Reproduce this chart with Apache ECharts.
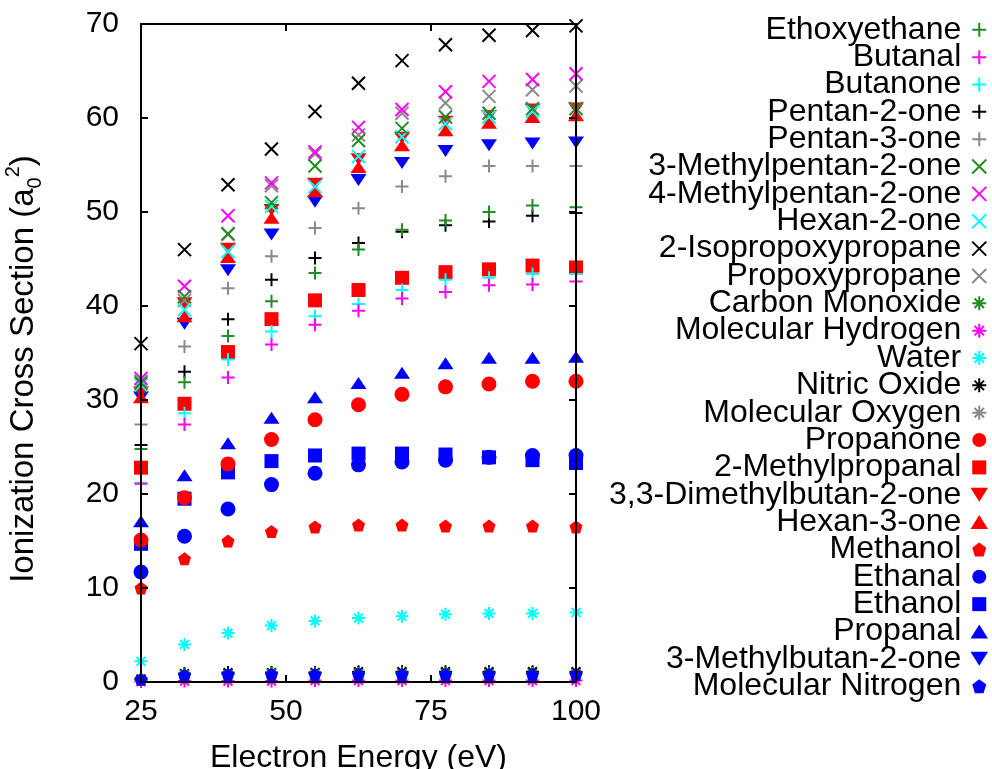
<!DOCTYPE html>
<html>
<head>
<meta charset="utf-8">
<script src="https://cdn.jsdelivr.net/npm/echarts@6/dist/echarts.min.js"></script>
<style>
html,body{margin:0;padding:0;background:#fff;}
#chart{width:992px;height:769px;}
</style>
</head>
<body>
<div id="chart"></div>
<script>
// ---------------- data ----------------
const energies = [25, 32.5, 40, 47.5, 55, 62.5, 70, 77.5, 85, 92.5, 100];
const xTicks = [25, 50, 75, 100];
const yTicks = [0, 10, 20, 30, 40, 50, 60, 70];

const ethoxyethane       = [24.8, 31.9, 36.8, 40.5, 43.5, 46.0, 48.1, 49.1, 50.0, 50.7, 50.5];
const butanal            = [21.1, 27.4, 32.4, 35.9, 38.0, 39.5, 40.8, 41.5, 42.2, 42.3, 42.6];
const butanone           = [21.2, 28.6, 34.3, 37.3, 38.9, 40.2, 41.7, 42.8, 43.0, 43.4, 43.4];
const pentan2one         = [25.2, 33.0, 38.6, 42.8, 45.1, 46.7, 47.9, 48.6, 49.0, 49.6, 49.9];
const pentan3one         = [27.4, 35.7, 41.9, 45.3, 48.3, 50.4, 52.7, 53.8, 54.9, 54.9, 54.9];
const methylpentan3_2one = [31.8, 41.0, 47.7, 51.0, 54.9, 57.6, 58.9, 60.1, 60.5, 61.0, 61.0];
const methylpentan4_2one = [32.3, 42.1, 49.6, 53.1, 56.4, 59.0, 60.9, 62.8, 63.9, 64.1, 64.7];
const hexan2one          = [31.6, 39.6, 45.8, 50.6, 52.7, 55.9, 58.0, 59.4, 60.1, 60.7, 61.0];
const isopropoxypropane  = [36.0, 46.0, 52.9, 56.7, 60.7, 63.7, 66.1, 67.8, 68.8, 69.3, 69.8];
const propoxypropane     = [32.0, 40.6, 47.6, 52.8, 56.2, 58.2, 60.5, 61.6, 62.3, 63.0, 63.4];
const carbonMonoxide     = [0.2, 0.8, 0.8, 0.9, 0.9, 0.9, 0.9, 0.9, 0.9, 0.9, 0.9];
const molecularHydrogen  = [0.05, 0.1, 0.1, 0.1, 0.15, 0.15, 0.15, 0.15, 0.15, 0.15, 0.15];
const water              = [2.2, 4.0, 5.2, 6.0, 6.5, 6.8, 7.0, 7.2, 7.3, 7.3, 7.4];
const nitricOxide        = [0.3, 0.9, 1.0, 1.0, 1.0, 1.1, 1.1, 1.1, 1.1, 1.1, 1.1];
const molecularOxygen    = [0.3, 0.8, 0.9, 0.9, 1.0, 1.0, 1.0, 1.0, 1.0, 1.0, 1.0];
const propanone          = [15.1, 19.6, 23.2, 25.8, 27.9, 29.5, 30.6, 31.4, 31.7, 32.0, 32.0];
const methylpropanal     = [22.8, 29.6, 35.1, 38.6, 40.6, 41.7, 43.0, 43.6, 43.9, 44.3, 44.1];
const dimethylbutanone   = [30.8, 40.3, 46.1, 50.2, 53.0, 55.6, 57.9, 59.6, 60.2, 60.9, 61.0];
const hexan3one          = [30.3, 38.9, 45.2, 49.4, 52.2, 54.8, 57.1, 58.7, 59.5, 60.1, 60.3];
const methanol           = [10.0, 13.1, 15.0, 16.0, 16.5, 16.7, 16.7, 16.6, 16.6, 16.6, 16.5];
const ethanal            = [11.7, 15.5, 18.4, 21.0, 22.2, 23.1, 23.4, 23.6, 23.9, 24.1, 24.1];
const ethanol            = [14.7, 19.5, 22.3, 23.5, 24.1, 24.3, 24.3, 24.2, 23.9, 23.6, 23.3];
const propanal           = [17.1, 22.0, 25.4, 28.1, 30.3, 31.8, 32.9, 33.9, 34.5, 34.5, 34.6];
const methylbutanone     = [30.3, 38.1, 43.8, 47.6, 51.1, 53.4, 55.2, 56.5, 57.1, 57.3, 57.4];
const molecularNitrogen  = [0.3, 0.7, 0.8, 0.8, 0.8, 0.8, 0.8, 0.8, 0.8, 0.8, 0.8];

const seriesNames = [
  'Ethoxyethane', 'Butanal', 'Butanone', 'Pentan-2-one', 'Pentan-3-one',
  '3-Methylpentan-2-one', '4-Methylpentan-2-one', 'Hexan-2-one', '2-Isopropoxypropane', 'Propoxypropane',
  'Carbon Monoxide', 'Molecular Hydrogen', 'Water', 'Nitric Oxide', 'Molecular Oxygen',
  'Propanone', '2-Methylpropanal', '3,3-Dimethylbutan-2-one', 'Hexan-3-one', 'Methanol',
  'Ethanal', 'Ethanol', 'Propanal', '3-Methylbutan-2-one', 'Molecular Nitrogen'
];
const seriesValues = [
  ethoxyethane, butanal, butanone, pentan2one, pentan3one,
  methylpentan3_2one, methylpentan4_2one, hexan2one, isopropoxypropane, propoxypropane,
  carbonMonoxide, molecularHydrogen, water, nitricOxide, molecularOxygen,
  propanone, methylpropanal, dimethylbutanone, hexan3one, methanol,
  ethanal, ethanol, propanal, methylbutanone, molecularNitrogen
];

// ---------------- styles ----------------
const GREEN = '#228b22', MAGENTA = '#ff00ff', CYAN = '#00ffff', BLACK = '#000000', GRAY = '#8a8a8a';
const RED = '#ff0000', BLUE = '#0000ff';
const PLUS = 'path://M0,5L10,5M5,0L5,10';
const CROSS = 'path://M0,0L10,10M10,0L0,10';
const STAR = 'path://M0,5L10,5M5,0L5,10M1.6,1.6L8.4,8.4M8.4,1.6L1.6,8.4';
const SQUARE = 'path://M0,0L10,0L10,10L0,10Z';
const TRI_DOWN = 'path://M0,0L10,0L5,8Z';
const TRI_UP = 'path://M5,0L10,8L0,8Z';
const PENTA = 'path://M5,0L10,3.8L8.1,10L1.9,10L0,3.8Z';
const palette5 = [GREEN, MAGENTA, CYAN, BLACK, GRAY];
const styles = [];
[PLUS, CROSS, STAR].forEach(function (sym) {
  palette5.forEach(function (c) {
    styles.push({ symbol: sym, color: c, stroke: true, size: 13 });
  });
});
styles.push({ symbol: 'circle', color: RED, size: 15 });
styles.push({ symbol: SQUARE, color: RED, size: 14 });
styles.push({ symbol: TRI_DOWN, color: RED, size: [16, 12] });
styles.push({ symbol: TRI_UP, color: RED, size: [16, 12] });
styles.push({ symbol: PENTA, color: RED, size: 13 });
styles.push({ symbol: 'circle', color: BLUE, size: 15 });
styles.push({ symbol: SQUARE, color: BLUE, size: 14 });
styles.push({ symbol: TRI_UP, color: BLUE, size: [16, 12] });
styles.push({ symbol: TRI_DOWN, color: BLUE, size: [16, 12] });
styles.push({ symbol: PENTA, color: BLUE, size: 13 });

const FONT = 'Liberation Sans, Arial, Helvetica, sans-serif';

const series = seriesNames.map(function (name, i) {
  const st = styles[i];
  const itemStyle = st.stroke
    ? { color: st.color, borderColor: st.color, borderWidth: 2, opacity: 1 }
    : { color: st.color, borderWidth: 0, opacity: 1 };
  return {
    name: name,
    type: 'scatter',
    data: energies.map(function (x, k) { return [x, seriesValues[i][k]]; }),
    symbol: st.symbol,
    symbolSize: st.size,
    itemStyle: itemStyle,
    emphasis: { disabled: true },
    animation: false,
    clip: false,
    z: i === seriesNames.length - 1 ? 45 : 40 - i
  };
});

const axisLineStyle = { color: '#000', width: 2 };
const tickStyle = { color: '#000', width: 2 };

const option = {
  backgroundColor: '#ffffff',
  animation: false,
  grid: { left: 141, right: 416, top: 24, bottom: 87, containLabel: false, outerBoundsMode: 'none' },
  legend: {
    orient: 'vertical',
    right: 4,
    top: 13.8,
    height: 755,
    align: 'right',
    itemWidth: 26,
    itemHeight: 14,
    itemGap: -4.65,
    padding: 0,
    selectedMode: false,
    symbolKeepAspect: true,
    data: seriesNames,
    textStyle: { fontSize: 32, color: '#000', fontFamily: FONT }
  },
  xAxis: [
    {
      type: 'value', min: xTicks[0], max: xTicks[xTicks.length - 1], interval: 25,
      position: 'bottom', z: 60,
      axisLine: { show: true, onZero: false, lineStyle: axisLineStyle },
      axisTick: { show: true, inside: true, length: 7, lineStyle: tickStyle },
      axisLabel: { fontSize: 30, color: '#000', fontFamily: FONT, margin: 15 },
      splitLine: { show: false },
      name: 'Electron Energy (eV)', nameLocation: 'middle', nameGap: 60,
      nameTextStyle: { fontSize: 32, color: '#000', fontFamily: FONT }
    },
    {
      type: 'value', min: xTicks[0], max: xTicks[xTicks.length - 1], interval: 25,
      position: 'top', z: 60,
      axisLine: { show: true, onZero: false, lineStyle: axisLineStyle },
      axisTick: { show: true, inside: true, length: 7, lineStyle: tickStyle },
      axisLabel: { show: false },
      splitLine: { show: false }
    }
  ],
  yAxis: [
    {
      type: 'value', min: yTicks[0], max: yTicks[yTicks.length - 1], interval: 10,
      position: 'left', z: 60,
      axisLine: { show: true, onZero: false, lineStyle: axisLineStyle },
      axisTick: { show: true, inside: true, length: 7, lineStyle: tickStyle },
      axisLabel: { fontSize: 30, color: '#000', fontFamily: FONT, margin: 22 },
      splitLine: { show: false },
      name: '{t|Ionization Cross Section (a}{sub|0}{sup|2}{t|)}',
      nameLocation: 'middle', nameGap: 96,
      nameTextStyle: {
        fontSize: 33, color: '#000', fontFamily: FONT,
        padding: [0, 32, 0, 0],
        rich: {
          t: { fontSize: 33, fontFamily: FONT, color: '#000', lineHeight: 42 },
          sub: { fontSize: 20, fontFamily: FONT, color: '#000', lineHeight: 20, verticalAlign: 'bottom' },
          sup: { fontSize: 20, fontFamily: FONT, color: '#000', lineHeight: 23, verticalAlign: 'top' }
        }
      }
    },
    {
      type: 'value', min: yTicks[0], max: yTicks[yTicks.length - 1], interval: 10,
      position: 'right', z: 60,
      axisLine: { show: true, onZero: false, lineStyle: axisLineStyle },
      axisTick: { show: true, inside: true, length: 7, lineStyle: tickStyle },
      axisLabel: { show: false },
      splitLine: { show: false }
    }
  ],
  series: series
};

const chart = echarts.init(document.getElementById('chart'), null, { renderer: 'canvas' });
chart.setOption(option);
</script>
</body>
</html>
